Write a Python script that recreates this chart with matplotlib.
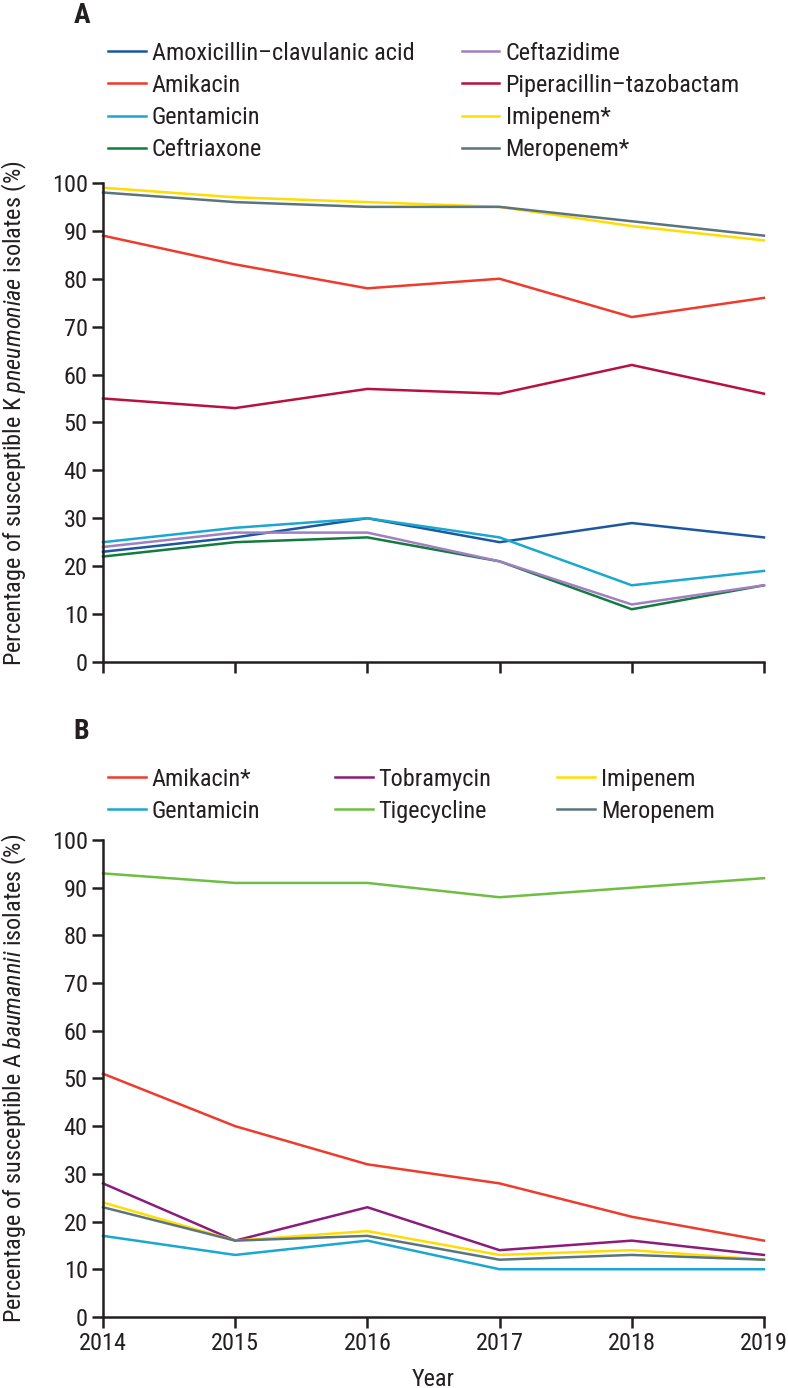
import matplotlib
matplotlib.use('Agg')
import matplotlib.pyplot as plt
from matplotlib import font_manager
from matplotlib.legend import Legend

# pick a narrow sans face if one is installed
entries = font_manager.fontManager.ttflist
face, stretch = 'Roboto', 'normal'
found = False
for name in ['Liberation Sans Narrow', 'Roboto Condensed', 'Open Sans Condensed',
             'Noto Sans Condensed', 'DejaVu Sans Condensed']:
    if any(f.name == name for f in entries):
        face, found = name, True
        break
if not found:
    for name in ['Noto Sans', 'Open Sans', 'Roboto', 'DejaVu Sans']:
        if any(f.name == name and f.stretch in ('condensed', 'semi-condensed')
               for f in entries):
            face, stretch = name, 'condensed'
            break

plt.rcParams['font.family'] = [face, 'DejaVu Sans']
plt.rcParams['font.stretch'] = stretch
plt.rcParams['mathtext.fontset'] = 'custom'
plt.rcParams['mathtext.it'] = f'{face}:style=italic:stretch={stretch}'
plt.rcParams['mathtext.rm'] = f'{face}:stretch={stretch}'

years = [2014, 2015, 2016, 2017, 2018, 2019]

# Panel A - K pneumoniae
a_names = ['Amoxicillin–clavulanic acid', 'Amikacin', 'Gentamicin', 'Ceftriaxone',
           'Ceftazidime', 'Piperacillin–tazobactam', 'Imipenem*', 'Meropenem*']
amox_clav = [23, 26, 30, 25, 29, 26]
amikacin_a = [89, 83, 78, 80, 72, 76]
gentamicin_a = [25, 28, 30, 26, 16, 19]
ceftriaxone = [22, 25, 26, 21, 11, 16]
ceftazidime = [24, 27, 27, 21, 12, 16]
pip_tazo = [55, 53, 57, 56, 62, 56]
imipenem_a = [99, 97, 96, 95, 91, 88]
meropenem_a = [98, 96, 95, 95, 92, 89]
a_values = [amox_clav, amikacin_a, gentamicin_a, ceftriaxone,
            ceftazidime, pip_tazo, imipenem_a, meropenem_a]
a_colors = ['#1d57a0', '#ee3b2b', '#1aa7d0', '#137b3e',
            '#a07fc2', '#b8113f', '#ffdd00', '#5a7480']

# Panel B - A baumannii
b_names = ['Amikacin*', 'Gentamicin', 'Tobramycin', 'Tigecycline', 'Imipenem', 'Meropenem']
amikacin_b = [51, 40, 32, 28, 21, 16]
gentamicin_b = [17, 13, 16, 10, 10, 10]
tobramycin = [28, 16, 23, 14, 16, 13]
tigecycline = [93, 91, 91, 88, 90, 92]
imipenem_b = [24, 16, 18, 13, 14, 12]
meropenem_b = [23, 16, 17, 12, 13, 12]
b_values = [amikacin_b, gentamicin_b, tobramycin, tigecycline, imipenem_b, meropenem_b]
b_colors = ['#ee3b2b', '#1aa7d0', '#8a1c7c', '#6ebe44', '#ffdd00', '#5a7480']

ink = '#231f20'
fs = 17.5

fig = plt.figure(figsize=(7.88, 13.88), dpi=100)
axA = fig.add_axes([0.1307, 0.5231, 0.8388, 0.3451])
axB = fig.add_axes([0.1307, 0.0512, 0.8388, 0.3436])


def style(ax):
    ax.set_xlim(2014, 2019)
    ax.set_ylim(0, 100)
    ax.set_xticks(years)
    ax.set_yticks(range(0, 101, 10))
    for s in ['top', 'right']:
        ax.spines[s].set_visible(False)
    for s in ['left', 'bottom']:
        ax.spines[s].set_linewidth(1.8)
        ax.spines[s].set_color(ink)
    ax.tick_params(direction='out', length=8, width=1.8, color=ink,
                   labelsize=fs, labelcolor=ink, pad=3)


def legend_cols(ax, lines, labels, xs, ytop, per_col):
    for i, x in enumerate(xs):
        h = lines[i * per_col:(i + 1) * per_col]
        l = labels[i * per_col:(i + 1) * per_col]
        leg = Legend(ax, h, l, loc='upper left', bbox_to_anchor=(x, ytop),
                     bbox_transform=fig.transFigure, frameon=False,
                     fontsize=fs, handlelength=1.55, handletextpad=0.25,
                     labelspacing=0.38, borderpad=0, borderaxespad=0)
        for t in leg.get_texts():
            t.set_color(ink)
        ax.add_artist(leg)


linesA = []
for vals, c in zip(a_values, a_colors):
    ln, = axA.plot(years, vals, color=c, lw=1.8, clip_on=False)
    linesA.append(ln)
style(axA)
axA.set_xticklabels([])
axA.set_ylabel(r'Percentage of susceptible K $\mathit{pneumoniae}$ isolates (%)',
               fontsize=fs, color=ink)
axA.yaxis.set_label_coords(-0.112, 0.52)
legend_cols(axA, linesA, a_names, [0.137, 0.586], 0.970, 4)

linesB = []
for vals, c in zip(b_values, b_colors):
    ln, = axB.plot(years, vals, color=c, lw=1.8, clip_on=False)
    linesB.append(ln)
style(axB)
axB.set_ylabel(r'Percentage of susceptible A $\mathit{baumannii}$ isolates (%)',
               fontsize=fs, color=ink)
axB.yaxis.set_label_coords(-0.112, 0.5)
axB.set_xlabel('Year', fontsize=fs, color=ink, labelpad=9)
legend_cols(axB, linesB, b_names, [0.137, 0.425, 0.707], 0.447, 2)

fig.text(0.093, 0.989, 'A', fontsize=20, fontweight='bold', color=ink, va='center', ha='left')
fig.text(0.093, 0.473, 'B', fontsize=20, fontweight='bold', color=ink, va='center', ha='left')

fig.savefig('out.png', dpi=100)
